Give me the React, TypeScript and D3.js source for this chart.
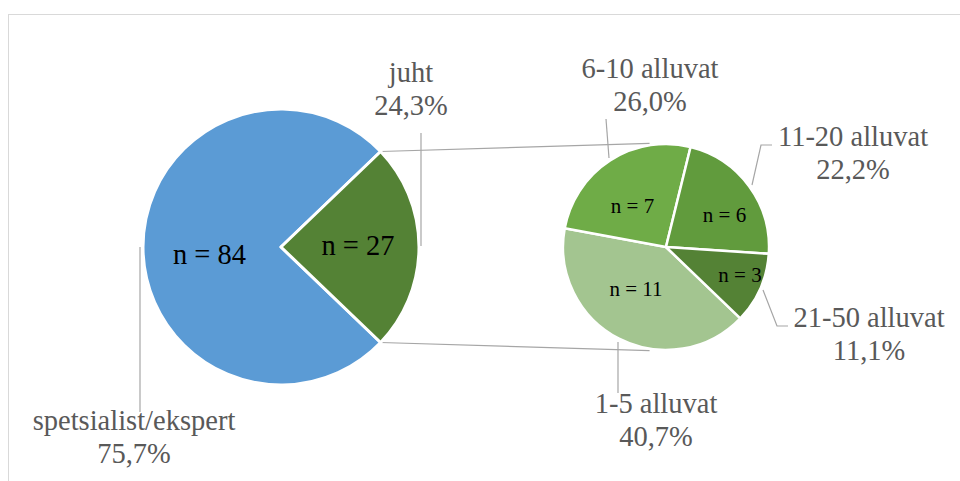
import React from "react";
import * as d3 from "d3";

// ---- data ----
const mainCategories = ["spetsialist/ekspert", "juht"];
const mainCounts = [84, 27];
const mainPercents = ["75,7%", "24,3%"];

const subCategories = ["1-5 alluvat", "6-10 alluvat", "11-20 alluvat", "21-50 alluvat"];
const subCounts = [11, 7, 6, 3];
const subPercents = ["40,7%", "26,0%", "22,2%", "11,1%"];

// ---- styles / layout ----
const W = 960;
const H = 481;
const mainColors = ["#5B9BD5", "#548235"];
const subColors = ["#A3C590", "#6FAC47", "#619B3D", "#548235"];
const MAIN = { cx: 281, cy: 247, r: 138 };
const SUB = { cx: 666, cy: 247, r: 103 };
const FONT = "'Liberation Serif', 'Times New Roman', serif";
const labelColor = "#595959";
const leaderColor = "#A6A6A6";

// category label layout: center x, first baseline
const mainLabelPos: Record<string, [number, number]> = {
  "spetsialist/ekspert": [134, 430],
  juht: [411, 82],
};
const subLabelPos: Record<string, [number, number]> = {
  "1-5 alluvat": [656, 413],
  "6-10 alluvat": [650, 78],
  "11-20 alluvat": [853, 146],
  "21-50 alluvat": [869, 327],
};
const mainCountPos: Record<string, [number, number]> = {
  "spetsialist/ekspert": [209.5, 264],
  juht: [358, 255],
};
const subCountPos: Record<string, [number, number]> = {
  "1-5 alluvat": [636, 296],
  "6-10 alluvat": [632.5, 213],
  "11-20 alluvat": [724.5, 222],
  "21-50 alluvat": [740, 282],
};
const mainLeaders: Record<string, [number, number][]> = {
  "spetsialist/ekspert": [[140, 247], [140, 412]],
  juht: [[421, 133], [421, 246]],
};
const subLeaders: Record<string, [number, number][]> = {
  "1-5 alluvat": [[618, 342], [618, 393]],
  "6-10 alluvat": [[606, 119], [609, 158]],
  "11-20 alluvat": [[772, 145], [761, 145], [752, 185]],
  "21-50 alluvat": [[763, 290], [777, 326], [788, 326]],
};

export default function App() {
  const deg = Math.PI / 180;
  const total = d3.sum(mainCounts);
  const juhtFrac = mainCounts[1] / total;
  const mainStart = Math.PI / 2 + juhtFrac * Math.PI;
  const mainPie = d3
    .pie<number>()
    .sort(null)
    .startAngle(mainStart)
    .endAngle(mainStart + 2 * Math.PI)(mainCounts);
  const mainArc = d3.arc<d3.PieArcDatum<number>>().innerRadius(0).outerRadius(MAIN.r);

  const subStart = 133.8 * deg;
  const subPie = d3
    .pie<number>()
    .sort(null)
    .startAngle(subStart)
    .endAngle(subStart + 2 * Math.PI)(subCounts);
  const subArc = d3.arc<d3.PieArcDatum<number>>().innerRadius(0).outerRadius(SUB.r);

  // connector lines from main pie's juht edges to secondary pie
  const pt = (c: { cx: number; cy: number }, r: number, a: number): [number, number] => [
    c.cx + r * Math.sin(a),
    c.cy - r * Math.cos(a),
  ];
  const j = mainPie[1];
  const conTop: [[number, number], [number, number]] = [
    pt(MAIN, MAIN.r, j.startAngle),
    pt(SUB, SUB.r + 2, -9 * deg),
  ];
  const conBot: [[number, number], [number, number]] = [
    pt(MAIN, MAIN.r, j.endAngle),
    pt(SUB, SUB.r + 2, 189 * deg),
  ];
  const line = d3.line();

  return (
    <svg
      width={W}
      height={H}
      style={{ position: "absolute", left: 0, top: 0, background: "#fff" }}
      fontFamily={FONT}
    >
      <rect x={8.5} y={14.5} width={W} height={H} fill="#fff" stroke="#D9D9D9" strokeWidth={1} />

      {/* connectors */}
      {[conTop, conBot].map((c, i) => (
        <path key={i} d={line(c) || ""} stroke={leaderColor} strokeWidth={1.2} fill="none" />
      ))}

      {/* main pie */}
      <g transform={`translate(${MAIN.cx},${MAIN.cy})`}>
        {mainPie.map((d, i) => (
          <path key={i} d={mainArc(d) || ""} fill={mainColors[i]} stroke="#fff" strokeWidth={3} strokeLinejoin="round" />
        ))}
      </g>
      {/* secondary pie */}
      <g transform={`translate(${SUB.cx},${SUB.cy})`}>
        {subPie.map((d, i) => (
          <path key={i} d={subArc(d) || ""} fill={subColors[i]} stroke="#fff" strokeWidth={2.5} strokeLinejoin="round" />
        ))}
      </g>

      {/* leaders */}
      {mainCategories.map((c) => (
        <path key={c} d={line(mainLeaders[c]) || ""} stroke={leaderColor} strokeWidth={1.2} fill="none" />
      ))}
      {subCategories.map((c) => (
        <path key={c} d={line(subLeaders[c]) || ""} stroke={leaderColor} strokeWidth={1.2} fill="none" />
      ))}

      {/* count labels */}
      {mainCategories.map((c, i) => (
        <text key={c} x={mainCountPos[c][0]} y={mainCountPos[c][1]} textAnchor="middle" fontSize={28.5} fill="#000">
          {`n = ${mainCounts[i]}`}
        </text>
      ))}
      {subCategories.map((c, i) => (
        <text key={c} x={subCountPos[c][0]} y={subCountPos[c][1]} textAnchor="middle" fontSize={21} fill="#000">
          {`n = ${subCounts[i]}`}
        </text>
      ))}

      {/* category labels */}
      {mainCategories.map((c, i) => (
        <text key={c} textAnchor="middle" fontSize={28.5} fill={labelColor}>
          <tspan x={mainLabelPos[c][0]} y={mainLabelPos[c][1]}>{c}</tspan>
          <tspan x={mainLabelPos[c][0]} y={mainLabelPos[c][1] + 33}>{mainPercents[i]}</tspan>
        </text>
      ))}
      {subCategories.map((c, i) => (
        <text key={c} textAnchor="middle" fontSize={28.5} fill={labelColor}>
          <tspan x={subLabelPos[c][0]} y={subLabelPos[c][1]}>{c}</tspan>
          <tspan x={subLabelPos[c][0]} y={subLabelPos[c][1] + 33}>{subPercents[i]}</tspan>
        </text>
      ))}
    </svg>
  );
}
